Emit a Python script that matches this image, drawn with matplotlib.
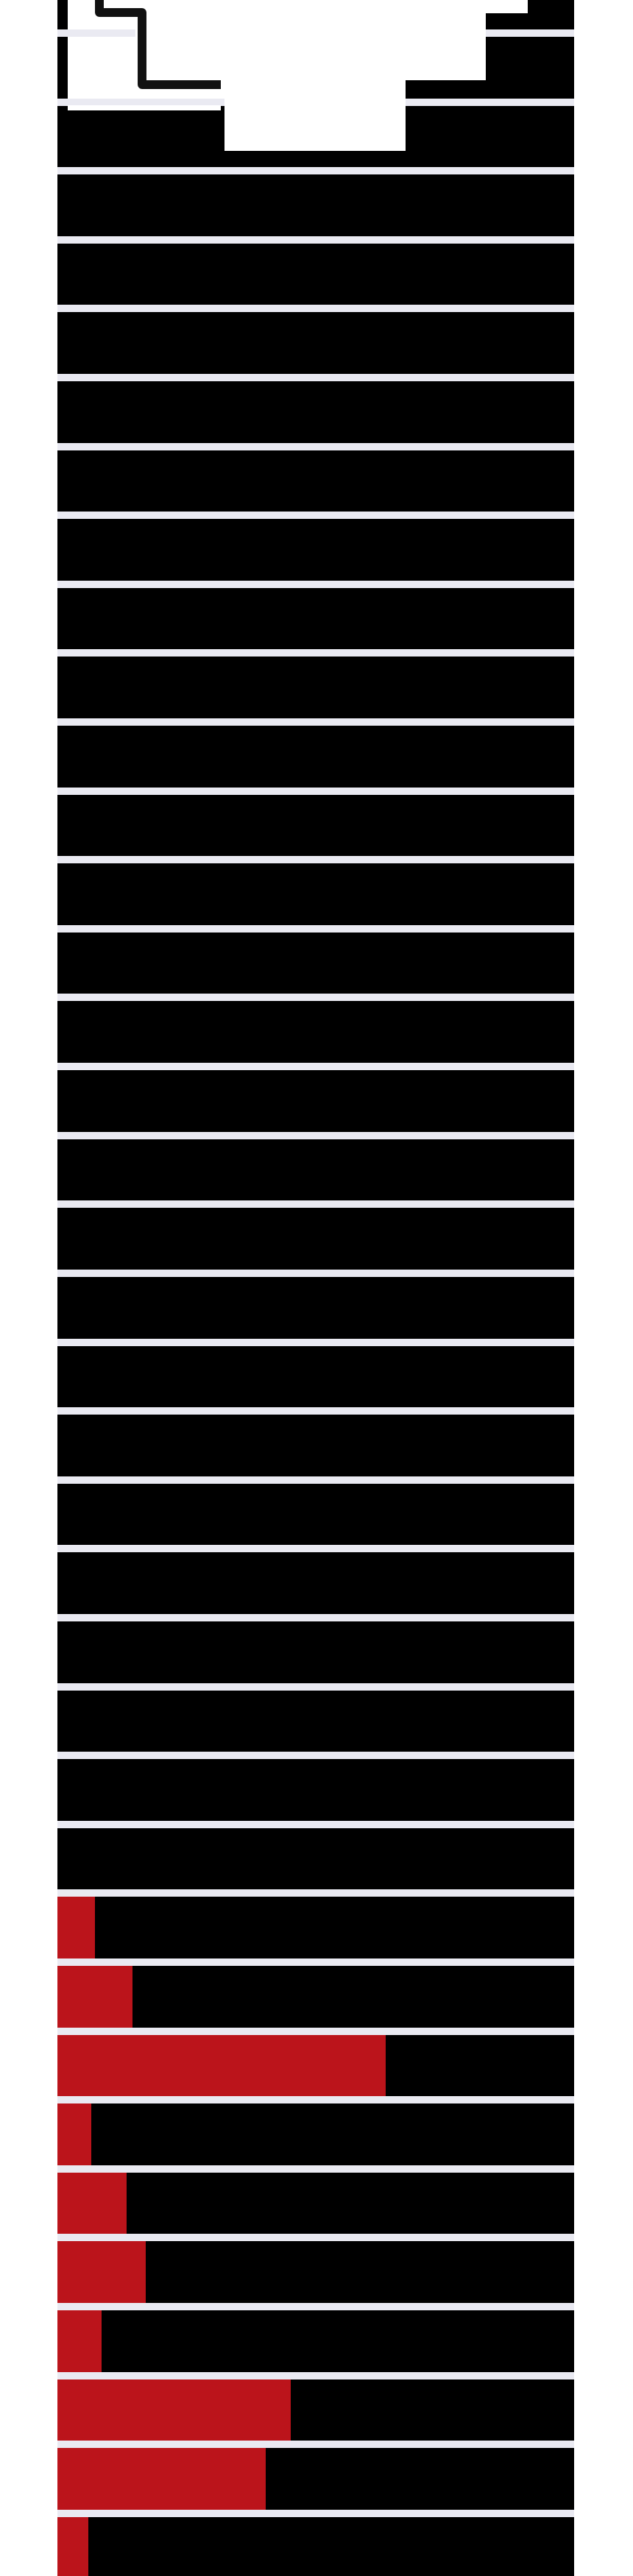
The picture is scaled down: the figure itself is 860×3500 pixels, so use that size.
import matplotlib
matplotlib.use("Agg")
import matplotlib.pyplot as plt
import matplotlib.patheffects as pe
import numpy as np

# one row per bar, top to bottom
rows = list(range(38))

# red share of each bar (percent), the rest is black
red_share = [0] * 28 + [7.3, 14.5, 63.5, 6.6, 13.4, 17.1, 8.5, 45.2, 40.3, 6.0]

# the two top rows have a white block inside the black bar
white_left = [2.0, 2.0] + [0] * 36
white_share = [80.9, 65.4] + [0] * 36

# white cover over the top of the plot (step outline, data units)
cover_x = [17.8, 91.0, 91.0, 82.9, 82.9, 67.4, 67.4, 32.3, 32.3, 17.8]
cover_y = [-0.5, -0.5, 0.21, 0.21, 1.18, 1.18, 2.21, 2.21, 1.18, 1.18]

# thin white strip just under the second gap
strip_x = [2.0, 31.6, 31.6, 2.0]
strip_y = [1.547, 1.547, 1.622, 1.622]

# dark step line in the top left corner
step_x = [8.1, 8.1, 16.4, 16.4, 31.6]
step_y = [-0.5, 0.2, 0.2, 1.245, 1.245]

red = "#BB141B"
dark = "#000000"
lavender = "#EAEAF2"

red_arr = np.array(red_share)
black_arr = 100 - red_arr

fig = plt.figure(figsize=(8.6, 35), dpi=100, facecolor="white")
ax = fig.add_axes([78 / 860, 0, (780 - 78) / 860, 1])
ax.set_facecolor(lavender)

ax.barh(rows, red_arr, height=0.893, color=red, linewidth=0, zorder=2)
ax.barh(rows, black_arr, left=red_arr, height=0.893, color=dark, linewidth=0, zorder=2)
ax.barh(rows, white_share, left=white_left, height=0.893, color="white", linewidth=0, zorder=2)

ax.fill(cover_x, cover_y, color="white", linewidth=0, zorder=3)
ax.fill(strip_x, strip_y, color="white", linewidth=0, zorder=3)
ax.plot(step_x, step_y, color="#111111", linewidth=8.6, solid_joinstyle="round",
        solid_capstyle="butt", zorder=4,
        path_effects=[pe.Stroke(linewidth=14, foreground="white"), pe.Normal()])

ax.set_xlim(0, 100)
ax.set_ylim(37.41, 0.0192)
for s in ax.spines.values():
    s.set_visible(False)
ax.set_xticks([])
ax.set_yticks([])

fig.savefig("out.png", dpi=100, facecolor="white")
plt.close(fig)
